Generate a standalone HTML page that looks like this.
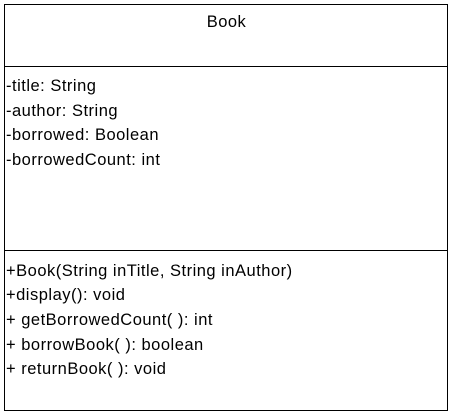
<!DOCTYPE html>
<html><head><style>
body{margin:0;width:453px;height:415px;background:#fff;position:relative;overflow:hidden;font-family:"Liberation Sans",sans-serif;font-size:16.5px;letter-spacing:0.5px;color:#000}
.box{position:absolute;left:4px;top:4px;width:442px;height:405px;border:1px solid #000}
.hl{position:absolute;left:4px;width:443px;height:1px;background:#000}
.t{position:absolute;left:6px;white-space:nowrap;line-height:18px}
</style></head><body>
<div class="box"></div>
<div class="hl" style="top:66px"></div>
<div class="hl" style="top:250px"></div>
<div class="t" style="left:0;width:453px;text-align:center;top:13px">Book</div>
<div class="t" style="top:77px">-title: String</div>
<div class="t" style="top:102px">-author: String</div>
<div class="t" style="top:126px">-borrowed: Boolean</div>
<div class="t" style="top:151px">-borrowedCount: int</div>
<div class="t" style="top:262px">+Book(String inTitle, String inAuthor)</div>
<div class="t" style="top:286px">+display(): void</div>
<div class="t" style="top:311px">+ getBorrowedCount( ): int</div>
<div class="t" style="top:336px">+ borrowBook( ): boolean</div>
<div class="t" style="top:360px">+ returnBook( ): void</div>
</body></html>
